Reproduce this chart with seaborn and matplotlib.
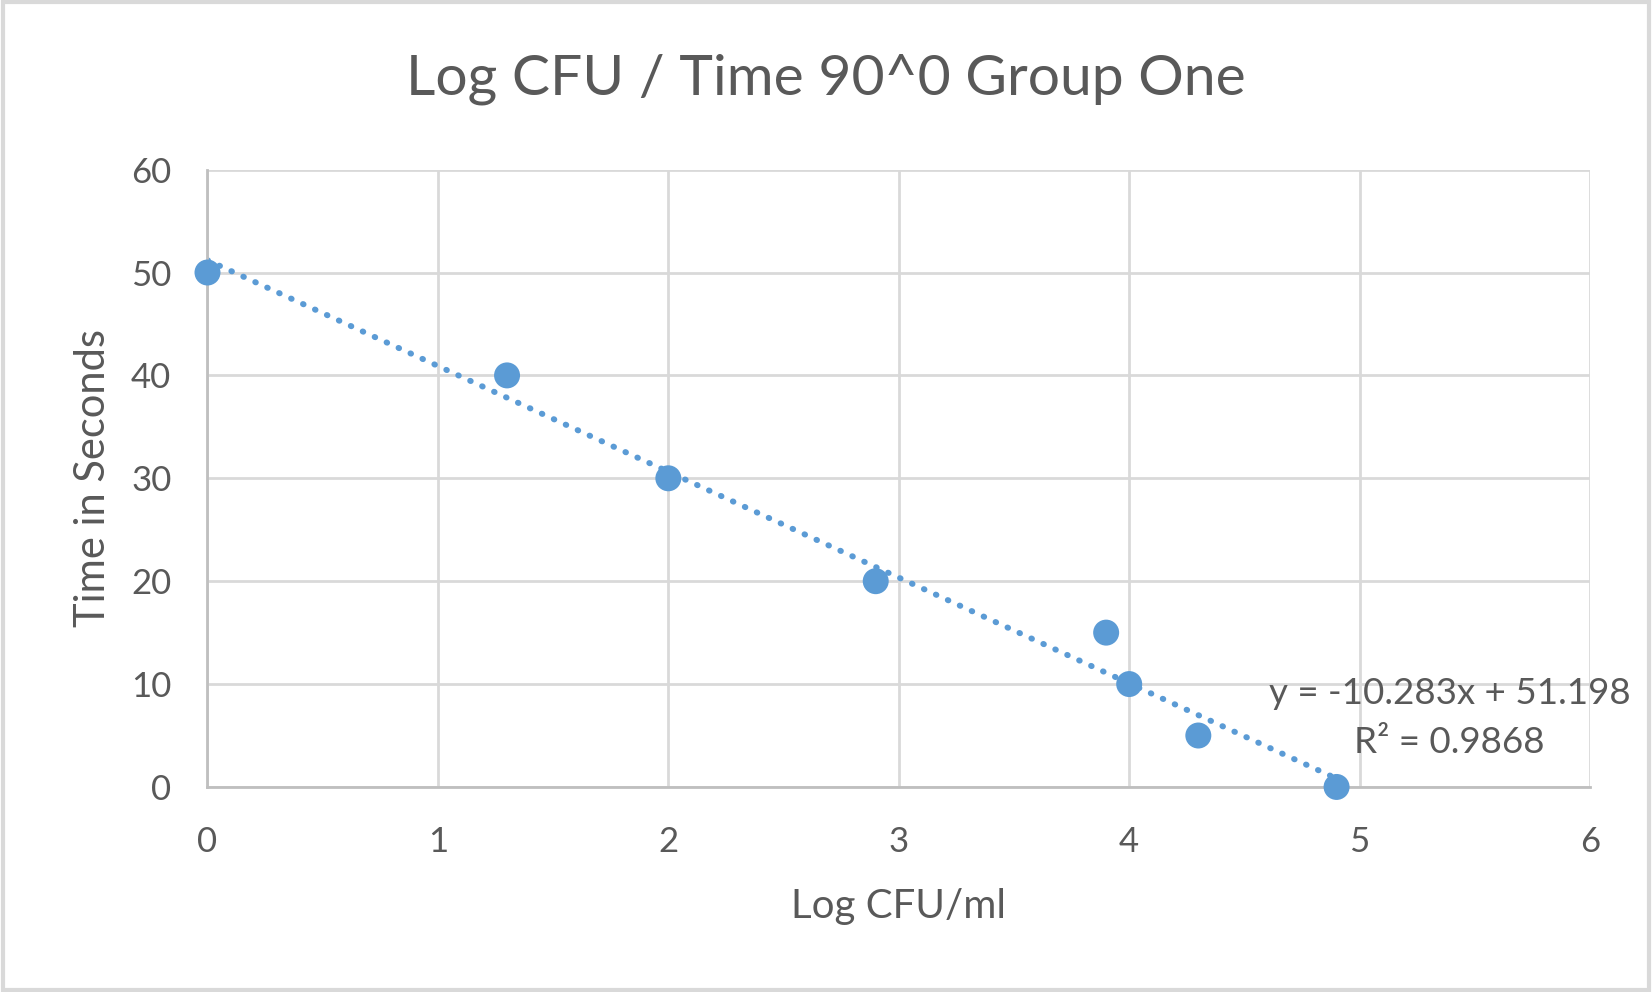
import numpy as np
import pandas as pd
import matplotlib
matplotlib.use("Agg")
import matplotlib.pyplot as plt
import seaborn as sns

# data
log_cfu = [0, 1.3, 2, 2.9, 3.9, 4, 4.3, 4.9]
time_sec = [50, 40, 30, 20, 15, 10, 5, 0]
x_ticks = [0, 1, 2, 3, 4, 5, 6]
y_ticks = [0, 10, 20, 30, 40, 50, 60]
trend_label = "y = -10.283x + 51.198\nR² = 0.9868"

df = pd.DataFrame({"log_cfu": log_cfu, "time": time_sec})

sns.set_theme(style="whitegrid")
plt.rcParams["font.family"] = ["Lato", "DejaVu Sans"]

blue = "#5B9BD5"
grey_text = "#595959"

fig = plt.figure(figsize=(16.52, 9.92), dpi=100)
ax = fig.add_axes([0.1256, 0.2067, 0.8369, 0.6223])

# dotted linear trendline (least squares, same as Excel)
sns.regplot(data=df, x="log_cfu", y="time", ax=ax, ci=None, scatter=False,
            color=blue, line_kws=dict(lw=4.3, ls=(0, (0.1, 2.1)),
                                      dash_capstyle="round"))
sns.scatterplot(data=df, x="log_cfu", y="time", ax=ax, s=350, color=blue,
                edgecolor="none", zorder=3, clip_on=False)

ax.set_xlim(0, 6)
ax.set_ylim(0, 60)
ax.set_xticks(x_ticks)
ax.set_yticks(y_ticks)
ax.grid(True, color="#D9D9D9", lw=2)
for side in ["top", "right"]:
    ax.spines[side].set_visible(False)
for side in ["left", "bottom"]:
    ax.spines[side].set_color("#BFBFBF")
    ax.spines[side].set_linewidth(2)
ax.tick_params(axis="both", length=0, labelsize=25, colors=grey_text)
ax.tick_params(axis="x", pad=28)
ax.tick_params(axis="y", pad=26)

ax.set_xlabel("Log CFU/ml", fontsize=29, color=grey_text, labelpad=22)
ax.set_ylabel("Time in Seconds", fontsize=30, color=grey_text, labelpad=14)
fig.text(0.5, 0.92, "Log CFU / Time 90^0 Group One", ha="center", va="center",
         fontsize=41, color=grey_text)

ax.text(5.39, 6.7, trend_label, ha="center", va="center", fontsize=26.5,
        color=grey_text, linespacing=1.6)

# light outer border like the exported chart
fig.patches.append(plt.Rectangle((0.002, 0.002), 0.996, 0.996,
                                 transform=fig.transFigure, fill=False,
                                 edgecolor="#D9D9D9", lw=3))

fig.savefig("out.png", dpi=100)
